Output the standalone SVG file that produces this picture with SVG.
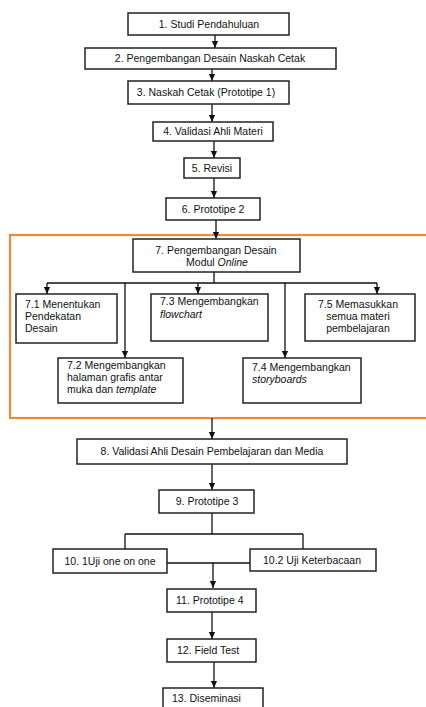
<svg xmlns="http://www.w3.org/2000/svg" width="426" height="707" viewBox="0 0 426 707">
<style>
.box{fill:#fff;stroke:#222;stroke-width:1.5}
.ln{fill:none;stroke:#111;stroke-width:1.3}
.arr{fill:none;stroke:#111;stroke-width:1.3;marker-end:url(#ah)}
text{font-family:"Liberation Sans",Arial,sans-serif;font-size:10.5px;fill:#111}
.c{text-anchor:middle}
.i{font-style:italic}
</style>
<defs>
<marker id="ah" viewBox="0 0 8 8" refX="8" refY="4" markerWidth="7" markerHeight="7" markerUnits="userSpaceOnUse" orient="auto">
<path d="M0,0.5 L8,4 L0,7.5 z" fill="#111"/>
</marker>
</defs>
<rect id="group7" x="10" y="235" width="430" height="183" fill="none" stroke="#F08A33" stroke-width="2.2"/>
<g id="connectors">
<line class="arr" x1="215" y1="35" x2="215" y2="48"/>
<line class="arr" x1="212" y1="69" x2="212" y2="81"/>
<line class="arr" x1="212" y1="104" x2="212" y2="122"/>
<line class="arr" x1="214" y1="141" x2="214" y2="158"/>
<line class="arr" x1="214" y1="178" x2="214" y2="198"/>
<line class="arr" x1="216" y1="220" x2="216" y2="239"/>
<line class="ln" x1="214" y1="272" x2="214" y2="283"/>
<line class="ln" x1="47" y1="283" x2="377" y2="283"/>
<line class="arr" x1="47" y1="283" x2="47" y2="294"/>
<line class="arr" x1="198" y1="283" x2="198" y2="294"/>
<line class="arr" x1="377" y1="283" x2="377" y2="294"/>
<line class="arr" x1="125" y1="283" x2="125" y2="358"/>
<line class="arr" x1="285" y1="283" x2="285" y2="358"/>
<line class="arr" x1="212" y1="418" x2="212" y2="439"/>
<line class="arr" x1="212" y1="464" x2="212" y2="490"/>
<line class="ln" x1="212" y1="513" x2="212" y2="534"/>
<line class="ln" x1="125" y1="534" x2="303" y2="534"/>
<line class="ln" x1="125" y1="534" x2="125" y2="549"/>
<line class="ln" x1="303" y1="534" x2="303" y2="549"/>
<line class="ln" x1="167" y1="563" x2="250" y2="563"/>
<line class="arr" x1="213" y1="563" x2="213" y2="588"/>
<line class="arr" x1="212" y1="612" x2="212" y2="639"/>
<line class="arr" x1="214" y1="662" x2="214" y2="688"/>
</g>
<g id="n1"><rect class="box" x="128" y="13" width="161" height="22"/><text class="c" x="209" y="28">1. Studi Pendahuluan</text></g>
<g id="n2"><rect class="box" x="85" y="48" width="251" height="21"/><text class="c" x="210" y="62">2. Pengembangan Desain Naskah Cetak</text></g>
<g id="n3"><rect class="box" x="128" y="81" width="161" height="23"/><text class="c" x="206" y="96">3. Naskah Cetak (Prototipe 1)</text></g>
<g id="n4"><rect class="box" x="153" y="122" width="120" height="19"/><text class="c" x="213" y="135">4. Validasi Ahli Materi</text></g>
<g id="n5"><rect class="box" x="184" y="158" width="56" height="20"/><text class="c" x="212" y="172">5. Revisi</text></g>
<g id="n6"><rect class="box" x="166" y="198" width="94" height="22"/><text class="c" x="213" y="213">6. Prototipe 2</text></g>
<g id="n7"><rect class="box" x="133" y="239" width="167" height="33"/><text class="c" x="216" y="254">7. Pengembangan Desain</text><text class="c" x="217" y="266">Modul <tspan class="i">Online</tspan></text></g>
<g id="n7_1"><rect class="box" x="16" y="294" width="101" height="49"/><text x="25" y="308">7.1 Menentukan</text><text x="25" y="320">Pendekatan</text><text x="25" y="332">Desain</text></g>
<g id="n7_3"><rect class="box" x="151" y="294" width="117" height="47"/><text x="160" y="305">7.3 Mengembangkan</text><text class="i" x="160" y="318">flowchart</text></g>
<g id="n7_5"><rect class="box" x="305" y="294" width="110" height="47"/><text class="c" x="358" y="308">7.5 Memasukkan</text><text class="c" x="358" y="320">semua materi</text><text class="c" x="358" y="332">pembelajaran</text></g>
<g id="n7_2"><rect class="box" x="58" y="358" width="125" height="45"/><text x="67" y="369">7.2 Mengembangkan</text><text x="67" y="381">halaman grafis antar</text><text x="67" y="393">muka dan <tspan class="i">template</tspan></text></g>
<g id="n7_4"><rect class="box" x="243" y="358" width="118" height="45"/><text x="252" y="371">7.4 Mengembangkan</text><text class="i" x="252" y="383">storyboards</text></g>
<g id="n8"><rect class="box" x="77" y="439" width="270" height="25"/><text class="c" x="212" y="455">8. Validasi Ahli Desain Pembelajaran dan Media</text></g>
<g id="n9"><rect class="box" x="159" y="490" width="95" height="23"/><text class="c" x="207" y="505">9. Prototipe 3</text></g>
<g id="n10_1"><rect class="box" x="53" y="549" width="114" height="24"/><text class="c" x="110" y="565">10. 1Uji one on one</text></g>
<g id="n10_2"><rect class="box" x="250" y="549" width="126" height="22"/><text class="c" x="312" y="564">10.2 Uji Keterbacaan</text></g>
<g id="n11"><rect class="box" x="167" y="589" width="89" height="23"/><text x="176" y="604">11. Prototipe 4</text></g>
<g id="n12"><rect class="box" x="167" y="639" width="89" height="23"/><text x="177" y="654">12. Field Test</text></g>
<g id="n13"><rect class="box" x="163" y="688" width="100" height="30"/><text x="172" y="702">13. Diseminasi</text></g>
</svg>
